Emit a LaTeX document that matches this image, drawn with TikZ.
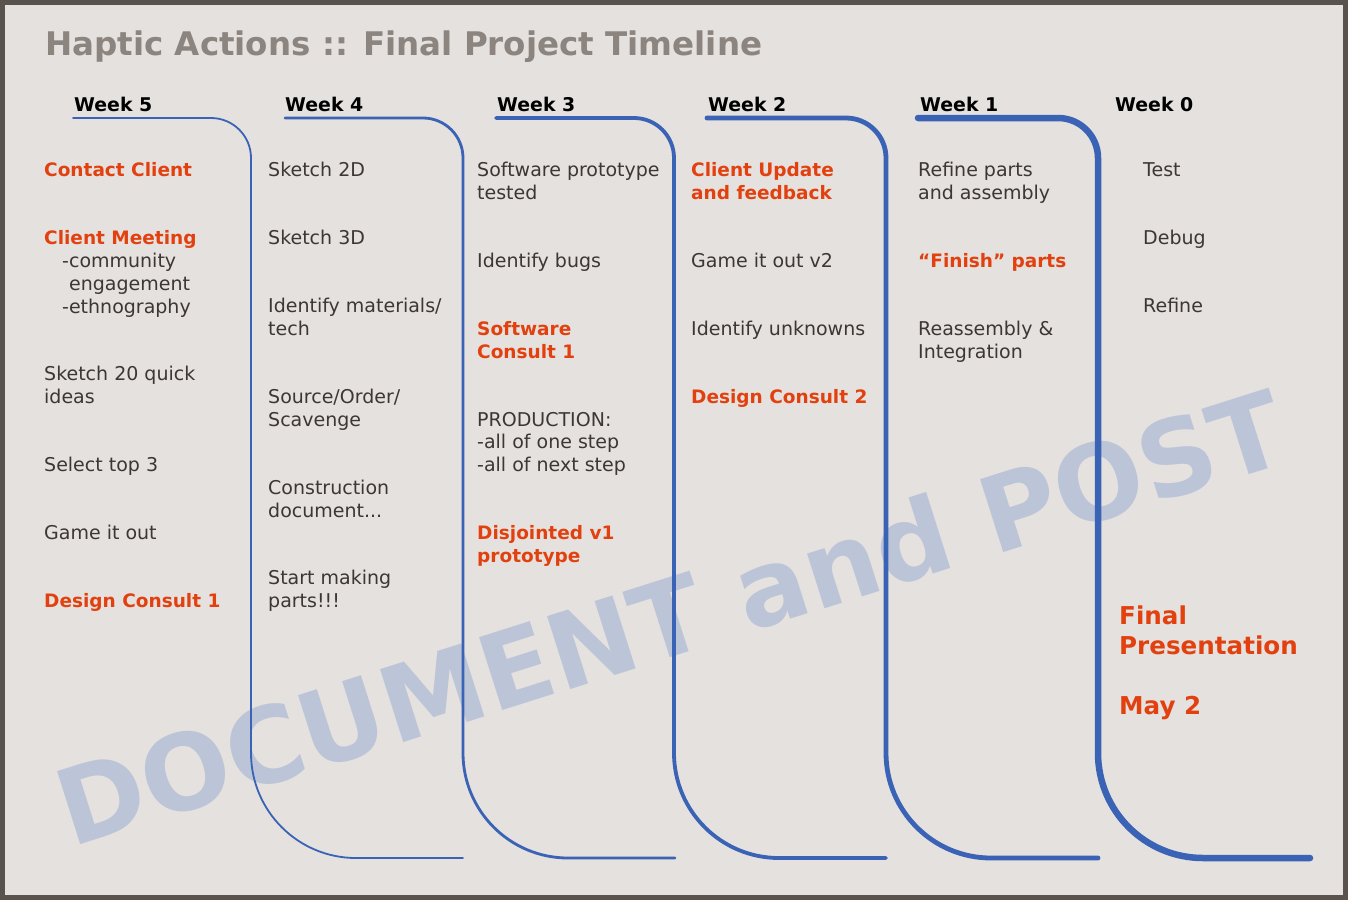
\documentclass[tikz,border=0pt]{standalone}
\usepackage{fontspec}
\setmainfont{DejaVu Sans}
\definecolor{bg}{HTML}{E4E1DE}
\definecolor{frame}{HTML}{5A524C}
\definecolor{ttl}{HTML}{8B847F}
\definecolor{txt}{HTML}{3C3634}
\definecolor{hot}{HTML}{E2410F}
\definecolor{tl}{HTML}{3A63B5}
\definecolor{wm}{HTML}{BCC4D8}
\tikzset{
  body/.style={anchor=base west, inner sep=0pt, text=txt, font=\fontsize{19}{22}\selectfont},
  hotb/.style={anchor=base west, inner sep=0pt, text=hot, font=\bfseries\fontsize{18.5}{22}\selectfont},
  wk/.style={anchor=base west, inner sep=0pt, text=black, font=\bfseries\fontsize{18.9}{22}\selectfont},
  big/.style={anchor=base west, inner sep=0pt, text=hot, font=\bfseries\fontsize{24.6}{30}\selectfont},
  tline/.style={draw=tl, line cap=round, line join=round}
}
\begin{document}
\begin{tikzpicture}[x=1pt,y=-1pt]
\fill[bg] (0,0) rectangle (1348,900);
\useasboundingbox (0,0) rectangle (1348,900);
% watermark
\node[anchor=base west, inner sep=0pt, rotate=17.6, text=wm, font=\bfseries\fontsize{105}{105}\selectfont] (wmk) at (71,848) {DOCUMENT and POST};
% title
\node[anchor=base west, inner sep=0pt, text=ttl, font=\bfseries\fontsize{32.5}{36}\selectfont] (title) at (45,55) {Haptic Actions :: Final Project Timeline};
% timeline curves
\foreach \xs/\xv/\xe/\w in {73/251/463/1.8, 285/463/675/2.8, 496/674/886/3.8, 707/886/1098/4.8, 918/1098/1310/6.5}{
  \draw[tline, line width=\w pt] (\xs,118) -- ({\xv-40},118)
     .. controls ({\xv-17.9},118) and (\xv,135.9) .. (\xv,158)
     -- (\xv,753)
     .. controls (\xv,811) and ({\xv+47},858) .. ({\xv+105},858)
     -- (\xe,858);
}
% week labels
\node[wk] (w5) at (74,111) {Week 5};
\node[wk] (w4) at (285,111) {Week 4};
\node[wk] (w3) at (497,111) {Week 3};
\node[wk] (w2) at (708,111) {Week 2};
\node[wk] (w1) at (920,111) {Week 1};
\node[wk] (w0) at (1115,111) {Week 0};
% column 1
\node[hotb] (c1a) at (44,176) {Contact Client};
\node[hotb] (c1b) at (44,244) {Client Meeting};
\node[body] (c1c) at (62,267) {-community};
\node[body] (c1d) at (69,290) {engagement};
\node[body] (c1e) at (62,313) {-ethnography};
\node[body] (c1f) at (44,380) {Sketch 20 quick};
\node[body] (c1g) at (44,403) {ideas};
\node[body] (c1h) at (44,471) {Select top 3};
\node[body] (c1i) at (44,539) {Game it out};
\node[hotb] (c1j) at (44,607) {Design Consult 1};
% column 2
\node[body] (c2a) at (268,176) {Sketch 2D};
\node[body] (c2b) at (268,244) {Sketch 3D};
\node[body] (c2c) at (268,312) {Identify materials/};
\node[body] (c2d) at (268,335) {tech};
\node[body] (c2e) at (268,403) {Source/Order/};
\node[body] (c2f) at (268,426) {Scavenge};
\node[body] (c2g) at (268,494) {Construction};
\node[body] (c2h) at (268,517) {document...};
\node[body] (c2i) at (268,584) {Start making};
\node[body] (c2j) at (268,607) {parts!!!};
% column 3
\node[body] (c3a) at (477,176) {Software prototype};
\node[body] (c3b) at (477,199) {tested};
\node[body] (c3c) at (477,267) {Identify bugs};
\node[hotb] (c3d) at (477,335) {Software};
\node[hotb] (c3e) at (477,358) {Consult 1};
\node[body] (c3f) at (477,426) {PRODUCTION:};
\node[body] (c3g) at (477,448) {-all of one step};
\node[body] (c3h) at (477,471) {-all of next step};
\node[hotb] (c3i) at (477,539) {Disjointed v1};
\node[hotb] (c3j) at (477,562) {prototype};
% column 4
\node[hotb] (c4a) at (691,176) {Client Update};
\node[hotb] (c4b) at (691,199) {and feedback};
\node[body] (c4c) at (691,267) {Game it out v2};
\node[body] (c4d) at (691,335) {Identify unknowns};
\node[hotb] (c4e) at (691,403) {Design Consult 2};
% column 5
\node[body] (c5a) at (918,176) {Refine parts};
\node[body] (c5b) at (918,199) {and assembly};
\node[hotb] (c5c) at (918,267) {“Finish” parts};
\node[body] (c5d) at (918,335) {Reassembly \&};
\node[body] (c5e) at (918,358) {Integration};
% column 6
\node[body] (c6a) at (1143,176) {Test};
\node[body] (c6b) at (1143,244) {Debug};
\node[body] (c6c) at (1143,312) {Refine};
\node[big] (f1) at (1119,624) {Final};
\node[big] (f2) at (1119,654) {Presentation};
\node[big] (f3) at (1119,714) {May 2};
% frame
\draw[frame, line width=5pt] (2.5,2.5) rectangle (1345.5,897.5);
\end{tikzpicture}
\end{document}
